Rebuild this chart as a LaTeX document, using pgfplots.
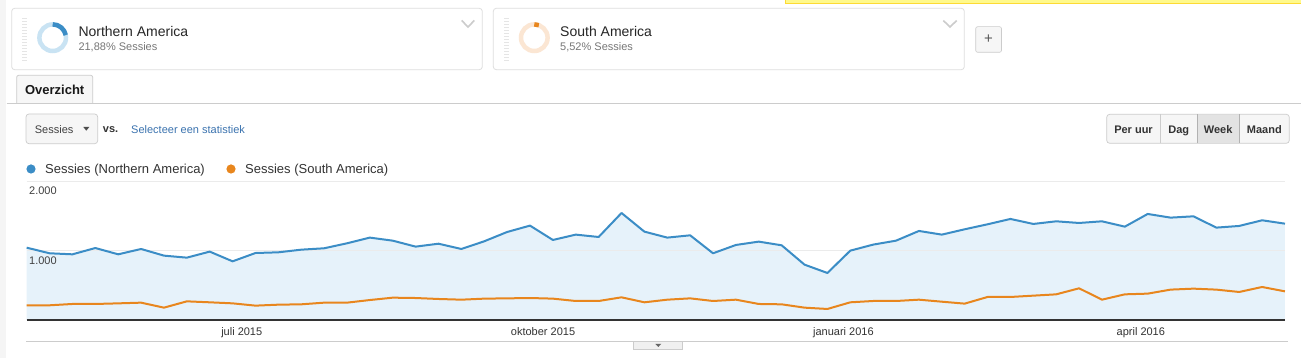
\documentclass[border=0pt]{standalone}
\usepackage{pgfplots}
\pgfplotsset{compat=1.18}
\usepackage{pgfplotstable}
\usepackage{fontspec}
\setmainfont{Liberation Sans}
\newcommand\fs[1]{\fontsize{#1}{#1}\selectfont}
\definecolor{cardborder}{HTML}{DEDEDE}
\definecolor{blueline}{HTML}{3B8DC6}
\definecolor{bluefill}{HTML}{E6F2FA}
\definecolor{orangeline}{HTML}{E8861D}
\definecolor{ringblue}{HTML}{C9E3F3}
\definecolor{ringorange}{HTML}{FBE6D3}
\definecolor{gridc}{HTML}{EBEBEB}
\definecolor{textgray}{HTML}{777777}
\definecolor{textdark}{HTML}{333333}
\definecolor{linkblue}{HTML}{3B73AF}
\definecolor{btnfill}{HTML}{F6F6F6}
\definecolor{btnborder}{HTML}{CCCCCC}

\pgfplotstableread{
x y
0 1043
1 962
2 947
3 1038
4 947
5 1024
6 928
7 899
8 986
9 846
10 966
11 976
12 1014
13 1034
14 1106
15 1188
16 1144
17 1058
18 1100
19 1024
20 1135
21 1269
22 1361
23 1154
24 1231
25 1197
26 1543
27 1274
28 1188
29 1221
30 962
31 1082
32 1130
33 1077
34 798
35 678
36 1000
37 1087
38 1144
39 1284
40 1231
41 1308
42 1380
43 1457
44 1385
45 1423
46 1399
47 1423
48 1346
49 1529
50 1476
51 1495
52 1332
53 1356
54 1438
55 1389
}\northern

\pgfplotstableread{
x y
0 212
1 212
2 231
3 231
4 240
5 250
6 178
7 269
8 255
9 240
10 207
11 221
12 226
13 250
14 250
15 288
16 322
17 317
18 303
19 293
20 308
21 312
22 317
23 308
24 274
25 274
26 327
27 255
28 293
29 312
30 274
31 293
32 231
33 226
34 178
35 159
36 255
37 274
38 274
39 293
40 264
41 236
42 332
43 332
44 351
45 370
46 457
47 293
48 370
49 380
50 438
51 452
52 438
53 404
54 476
55 413
}\southern

\begin{document}
\begin{tikzpicture}[x=1pt,y=1pt]
\useasboundingbox (0,0) rectangle (1301,358);
\fill[white] (0,0) rectangle (1301,358);
% left strip
\fill[black!4] (0,0) rectangle (6,358);
% yellow bar
\fill[yellow!45] (785.7,354.7) rectangle (1301,358);
\draw[yellow!70!orange!80, line width=0.8pt] (785.7,358) -- (785.7,354.7) -- (1301,354.7);

% card 1
\draw[cardborder, rounded corners=3pt, line width=0.8pt] (11.7,288.3) rectangle (482.3,349.7);
\draw[black!10, line width=5pt, dash pattern=on 1pt off 2pt] (24.5,297) -- (24.5,341);
\draw[ringblue, line width=4.5pt] (52.7,320.3) circle[radius=13.3];
\draw[blueline, line width=4.5pt] (52.7,320.3) ++(90:13.3) arc[start angle=90, end angle=11.2, radius=13.3];
\node[anchor=base west, inner sep=0, text=black!85] at (78.3,321.3) {\fs{14}Northern America};
\node[anchor=base west, inner sep=0, text=textgray] at (78.3,307.8) {\fs{11}21,88\% Sessies};
\draw[black!20, line width=1.6pt] (461.7,337.5) -- (468,331) -- (474.3,337.5);

% card 2
\draw[cardborder, rounded corners=3pt, line width=0.8pt] (493.3,288.3) rectangle (964.3,349.7);
\draw[black!10, line width=5pt, dash pattern=on 1pt off 2pt] (506.7,297) -- (506.7,341);
\draw[ringorange, line width=4.5pt] (534.3,320.3) circle[radius=13.3];
\draw[orangeline, line width=4.5pt] (534.3,320.3) ++(90:13.3) arc[start angle=90, end angle=70.1, radius=13.3];
\node[anchor=base west, inner sep=0, text=black!85] at (560,321.3) {\fs{14}South America};
\node[anchor=base west, inner sep=0, text=textgray] at (560,307.8) {\fs{11}5,52\% Sessies};
\draw[black!20, line width=1.6pt] (943.3,337.5) -- (950,331) -- (956.7,337.5);

% plus button
\draw[btnborder, fill=btnfill, rounded corners=2pt, line width=0.6pt] (975.7,305.7) rectangle (1001.5,331.3);
\node[text=black!65, inner sep=0] at (988.6,318.5) {\fs{15}+};

% tab
\draw[btnborder, fill=black!3, line width=0.8pt] (16.7,254.7) -- (16.7,280.7) arc[start angle=180, end angle=90, radius=2] -- (90.7,282.7) arc[start angle=90, end angle=0, radius=2] -- (92.7,254.7);
\node[inner sep=0, text=black!90] at (54.7,268) {\fs{13}\bfseries Overzicht};
\draw[btnborder, line width=0.8pt] (6.7,254.7) -- (1301,254.7);

% dropdown
\draw[btnborder, fill=btnfill, rounded corners=3pt, line width=0.7pt] (26,214.3) rectangle (97.7,244);
\node[anchor=base west, inner sep=0, text=black!75] at (34.7,224.7) {\fs{11}Sessies};
\fill[black!70] (83.3,231) -- (89.3,231) -- (86.3,227.3) -- cycle;
\node[anchor=base west, inner sep=0, text=textdark] at (102.7,225.2) {\fs{11}\bfseries vs.};
\node[anchor=base west, inner sep=0, text=linkblue] at (131,224.7) {\fs{11}Selecteer een statistiek};

% period buttons
\draw[btnborder, fill=btnfill, rounded corners=3pt, line width=0.7pt] (1106.7,214.7) rectangle (1289.3,243.7);
\fill[black!11] (1197,215.1) rectangle (1239.3,243.3);
\draw[black!30, line width=0.7pt] (1197,214.7) -- (1197,243.7);
\draw[black!30, line width=0.7pt] (1239.3,214.7) -- (1239.3,243.7);
\draw[btnborder, line width=0.7pt] (1160.3,214.7) -- (1160.3,243.7);
\node[anchor=base, inner sep=0, text=textdark] at (1133.5,224.7) {\fs{11}\bfseries Per uur};
\node[anchor=base, inner sep=0, text=textdark] at (1178.7,224.7) {\fs{11}\bfseries Dag};
\node[anchor=base, inner sep=0, text=textdark] at (1218.2,224.7) {\fs{11}\bfseries Week};
\node[anchor=base, inner sep=0, text=textdark] at (1264.3,224.7) {\fs{11}\bfseries Maand};

% legend
\fill[blueline] (31,189) circle[radius=4.6];
\node[anchor=base west, inner sep=0, text=textdark] at (45,184.8) {\fs{13}Sessies (Northern America)};
\fill[orangeline] (231,189) circle[radius=4.6];
\node[anchor=base west, inner sep=0, text=textdark] at (245,184.8) {\fs{13}Sessies (South America)};

% bottom line and handle
\draw[btnborder, line width=0.8pt] (26,16.3) -- (1288,16.3);
\draw[btnborder, fill=black!6, line width=0.6pt] (633.3,16.3) -- (633.3,9) -- (682.3,9) -- (682.3,16.3);
\fill[black!60] (655.3,14.2) -- (661.3,14.2) -- (658.3,11) -- cycle;

\begin{axis}[
  at={(26.7pt,38pt)}, anchor=south west,
  scale only axis, width=1258.3pt, height=138.7pt,
  xmin=0, xmax=55, ymin=0, ymax=2000,
  axis line style={draw=none},
  ytick=\empty,
  xtick={9.4,22.57,35.7,48.7},
  xticklabels={juli 2015,oktober 2015,januari 2016,april 2016},
  major tick length=0pt,
  xticklabel style={anchor=base, yshift=-15.3pt, font=\fs{11}, text=black!80, inner sep=0pt},
  clip=false,
]
\addplot[fill=bluefill, draw=none] table[x=x,y=y] {\northern} \closedcycle;
\draw[gridc, line width=0.8pt] (axis cs:0,1000) -- (axis cs:55,1000);
\draw[gridc, line width=0.8pt] (axis cs:0,2000) -- (axis cs:55,2000);
\addplot[blueline, line width=2pt, line join=round, no marks] table[x=x,y=y] {\northern};
\addplot[orangeline, line width=2pt, line join=round, no marks] table[x=x,y=y] {\southern};
\draw[black!80, line width=1.2pt] (axis cs:0,0) -- (axis cs:55,0);
\node[anchor=north west, inner sep=0, text=black!75, font=\fs{11}] at ([xshift=2.3pt,yshift=-5.5pt]axis cs:0,2000) {2.000};
\node[anchor=north west, inner sep=0, text=black!75, font=\fs{11}] at ([xshift=2.3pt,yshift=-5.5pt]axis cs:0,1000) {1.000};
\end{axis}
\end{tikzpicture}
\end{document}
